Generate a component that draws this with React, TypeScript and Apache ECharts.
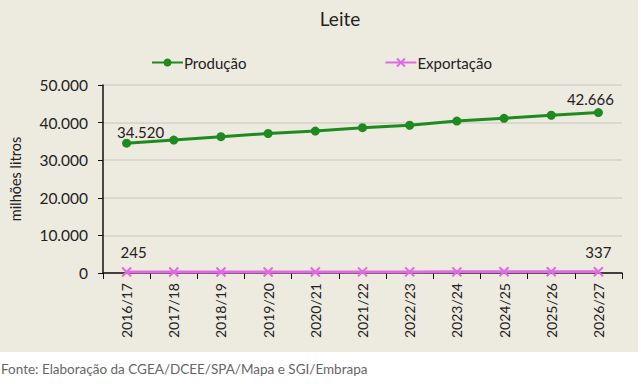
import React, { useEffect, useRef } from "react";
import * as echarts from "echarts";

const categories = ["2016/17", "2017/18", "2018/19", "2019/20", "2020/21", "2021/22", "2022/23", "2023/24", "2024/25", "2025/26", "2026/27"];
const producao = [34520, 35350, 36250, 37100, 37750, 38650, 39300, 40400, 41150, 41950, 42666];
const exportacao = [245, 254, 262, 272, 281, 290, 299, 308, 318, 327, 337];
const yTicks = { min: 0, max: 50000, interval: 10000 };

const fmt = (v: number) => String(Math.round(v)).replace(/\B(?=(\d{3})+(?!\d))/g, ".");

export default function App() {
  const ref = useRef<HTMLDivElement>(null);
  useEffect(() => {
    const chart = echarts.init(ref.current!, null, { renderer: "svg" });
    const font = "Lato, 'Open Sans', sans-serif";
    const last = categories.length - 1;
    chart.setOption({
      animation: false,
      textStyle: { fontFamily: font },
      graphic: [
        { type: "rect", z: -10, shape: { x: 0, y: 0, width: 638, height: 352 }, style: { fill: "#EDEAE0" } },
        { type: "text", left: 1, top: 362, style: { text: "Fonte: Elaboração da CGEA/DCEE/SPA/Mapa e SGI/Embrapa", fill: "#666", font: `13.5px ${font}` } },
      ],
      title: { text: "Leite", left: 335, textAlign: "center", top: 4, textStyle: { fontSize: 19, fontWeight: "normal", color: "#222", fontFamily: font } },
      legend: {
        top: 50,
        left: 146,
        itemGap: 138,
        itemWidth: 31,
        itemHeight: 10,
        textStyle: { fontSize: 15, color: "#222", fontFamily: font, padding: [0, 0, 0, -4] },
        data: ["Produção", "Exportação"],
      },
      grid: { left: 100, right: 19, top: 85, bottom: 111 },
      xAxis: {
        type: "category",
        data: categories,
        boundaryGap: true,
        axisLine: { lineStyle: { color: "#111", width: 1.5 } },
        axisTick: { show: true, alignWithLabel: false, length: 6, lineStyle: { color: "#111" } },
        axisLabel: { rotate: 90, fontSize: 14, color: "#222", margin: 10, fontFamily: font },
      },
      yAxis: {
        type: "value",
        min: yTicks.min,
        max: yTicks.max,
        interval: yTicks.interval,
        name: "milhões litros",
        nameLocation: "middle",
        nameGap: 80,
        nameRotate: 90,
        nameTextStyle: { fontSize: 14.5, color: "#222", fontFamily: font },
        axisLine: { show: true, lineStyle: { color: "#111", width: 1.5 } },
        axisTick: { show: true, length: 5, lineStyle: { color: "#111" } },
        axisLabel: { fontSize: 15.5, color: "#222", margin: 15, formatter: (v: number) => fmt(v), fontFamily: font },
        splitLine: { lineStyle: { color: "#d2d0ca", width: 1.5 } },
      },
      series: [
        {
          name: "Produção",
          type: "line",
          data: producao,
          symbol: "circle",
          symbolSize: 9,
          itemStyle: { color: "#1f8a1f" },
          lineStyle: { color: "#1f8a1f", width: 3 },
          label: {
            show: true,
            fontSize: 15,
            color: "#222",
            fontFamily: font,
            formatter: (p: any) => (p.dataIndex === 0 || p.dataIndex === last ? fmt(p.value) : ""),
          },
          labelLayout: (p: any) => {
            if (p.dataIndex === 0) return { dx: 14, dy: 6 };
            if (p.dataIndex === last) return { dx: -8, dy: 3 };
            return {};
          },
        },
        {
          name: "Exportação",
          type: "line",
          data: exportacao,
          symbol: "path://M0,0L10,10M10,0L0,10",
          symbolSize: 9,
          itemStyle: { color: "#e06ae0", borderColor: "#e06ae0", borderWidth: 2 },
          lineStyle: { color: "#e06ae0", width: 3 },
          label: {
            show: true,
            fontSize: 15,
            color: "#222",
            fontFamily: font,
            distance: 12,
            formatter: (p: any) => (p.dataIndex === 0 || p.dataIndex === last ? fmt(p.value) : ""),
          },
          labelLayout: (p: any) => {
            if (p.dataIndex === 0) return { dx: 7, dy: 5 };
            if (p.dataIndex === last) return { dx: 0, dy: 5 };
            return {};
          },
        },
      ],
    });
    return () => chart.dispose();
  }, []);
  return (
    <div style={{ position: "fixed", left: 0, top: 0, width: 641, height: 384, background: "#fff" }}>
      <div ref={ref} style={{ width: 641, height: 384 }} />
    </div>
  );
}
